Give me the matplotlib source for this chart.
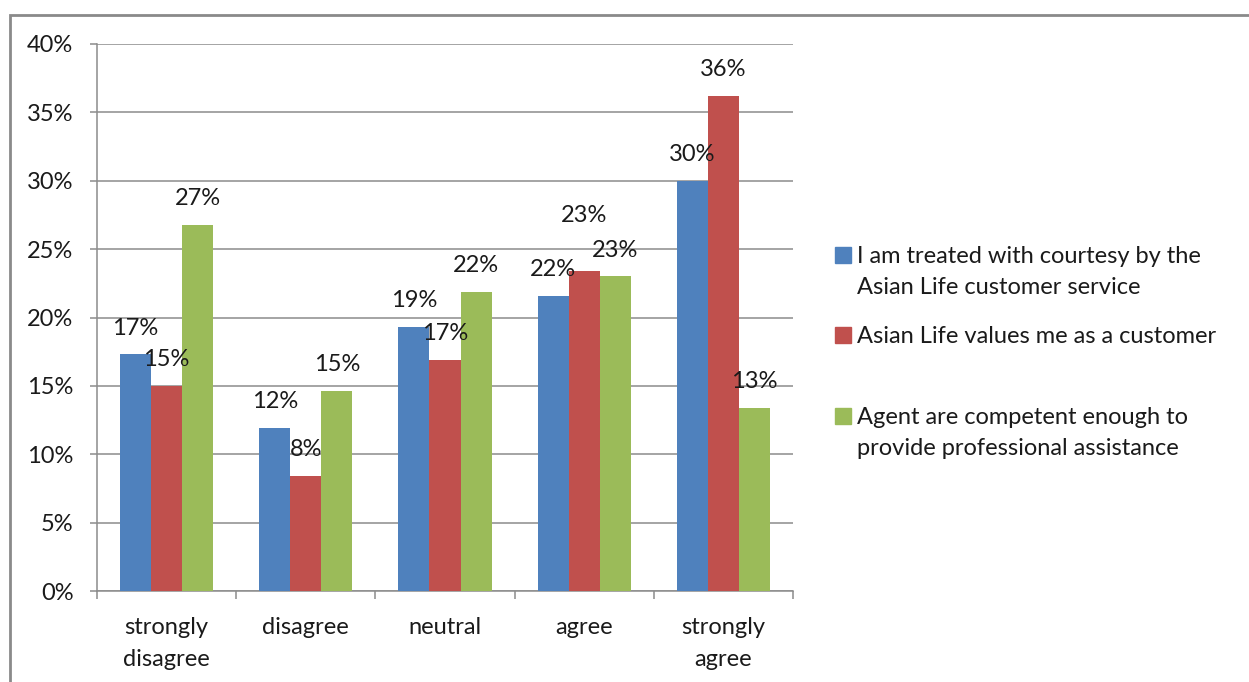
import numpy as np
import matplotlib
matplotlib.use('Agg')
import matplotlib.pyplot as plt
from matplotlib.patches import Rectangle

plt.rcParams['font.family'] = ['Lato', 'DejaVu Sans']

# --- data ---
categories = ['strongly\ndisagree', 'disagree', 'neutral', 'agree', 'strongly\nagree']
series_names = ['I am treated with courtesy by the\nAsian Life customer service',
                'Asian Life values me as a customer',
                'Agent are competent enough to\nprovide professional assistance']
courtesy = [17.3, 11.9, 19.3, 21.6, 30.0]
valued = [15.0, 8.4, 16.9, 23.4, 36.2]
competent = [26.8, 14.6, 21.9, 23.0, 13.4]
colors = ['#4F81BD', '#C0504D', '#9BBB59']

W, H = 1249, 682
FS = 17
fig = plt.figure(figsize=(W / 100, H / 100), dpi=100)
ax = fig.add_axes([97 / W, 1 - 591 / H, (793 - 97) / W, (591 - 44) / H])

x = np.arange(len(categories))
bw = 0.223
text_col = '#1a1a1a'
grid_col = '#8c8c8c'

for i, (vals, c) in enumerate(zip([courtesy, valued, competent], colors)):
    pos = x + (i - 1) * bw
    ax.bar(pos, vals, width=bw, color=c, zorder=3)
    for j, (p, v) in enumerate(zip(pos, vals)):
        lift = 19
        if i == 1 and j == 3:
            lift = 40  # pushed up so it clears the neighbouring labels
        ax.annotate(f'{round(v)}%', (p, v), xytext=(0, lift), textcoords='offset points',
                    ha='center', va='center', fontsize=FS, color=text_col, zorder=4)

ax.set_xlim(-0.5, len(categories) - 0.5)
ax.set_ylim(0, 40)
ax.set_yticks(np.arange(0, 41, 5))
ax.set_yticklabels([f'{t}%' for t in range(0, 41, 5)])
ax.yaxis.grid(True, color=grid_col, lw=1.1, zorder=0)

ax.set_xticks(x)
ax.set_xticklabels(categories, linespacing=1.6)
ax.set_xticks(np.arange(-0.5, len(categories)), minor=True)
ax.tick_params(axis='x', which='major', length=0, pad=19, labelsize=FS, labelcolor=text_col)
ax.tick_params(axis='x', which='minor', length=6, width=1.1, color=grid_col)
ax.tick_params(axis='y', length=5, width=1.1, color=grid_col, pad=12, labelsize=FS,
               labelcolor=text_col)

for s in ['top', 'right']:
    ax.spines[s].set_visible(False)
for s in ['left', 'bottom']:
    ax.spines[s].set_color(grid_col)
    ax.spines[s].set_linewidth(1.1)

# legend drawn by hand so markers sit on the first line of each entry
leg_lines = [255, 335, 416]
for name, c, mid in zip(series_names, colors, leg_lines):
    fig.text(857 / W, 1 - (mid - 9) / H, name, ha='left', va='top', fontsize=FS,
             color=text_col, linespacing=1.6)
    fig.patches.append(Rectangle((835 / W, 1 - (mid + 8) / H), 16 / W, 16 / H,
                                 transform=fig.transFigure, color=c))

# outer chart frame
fig.patches.append(Rectangle((9.5 / W, -0.1), 1.2, 1 - 15 / H + 0.1, transform=fig.transFigure,
                             fill=False, ec='#8a8a8a', lw=2))

fig.savefig('out.png', dpi=100)
